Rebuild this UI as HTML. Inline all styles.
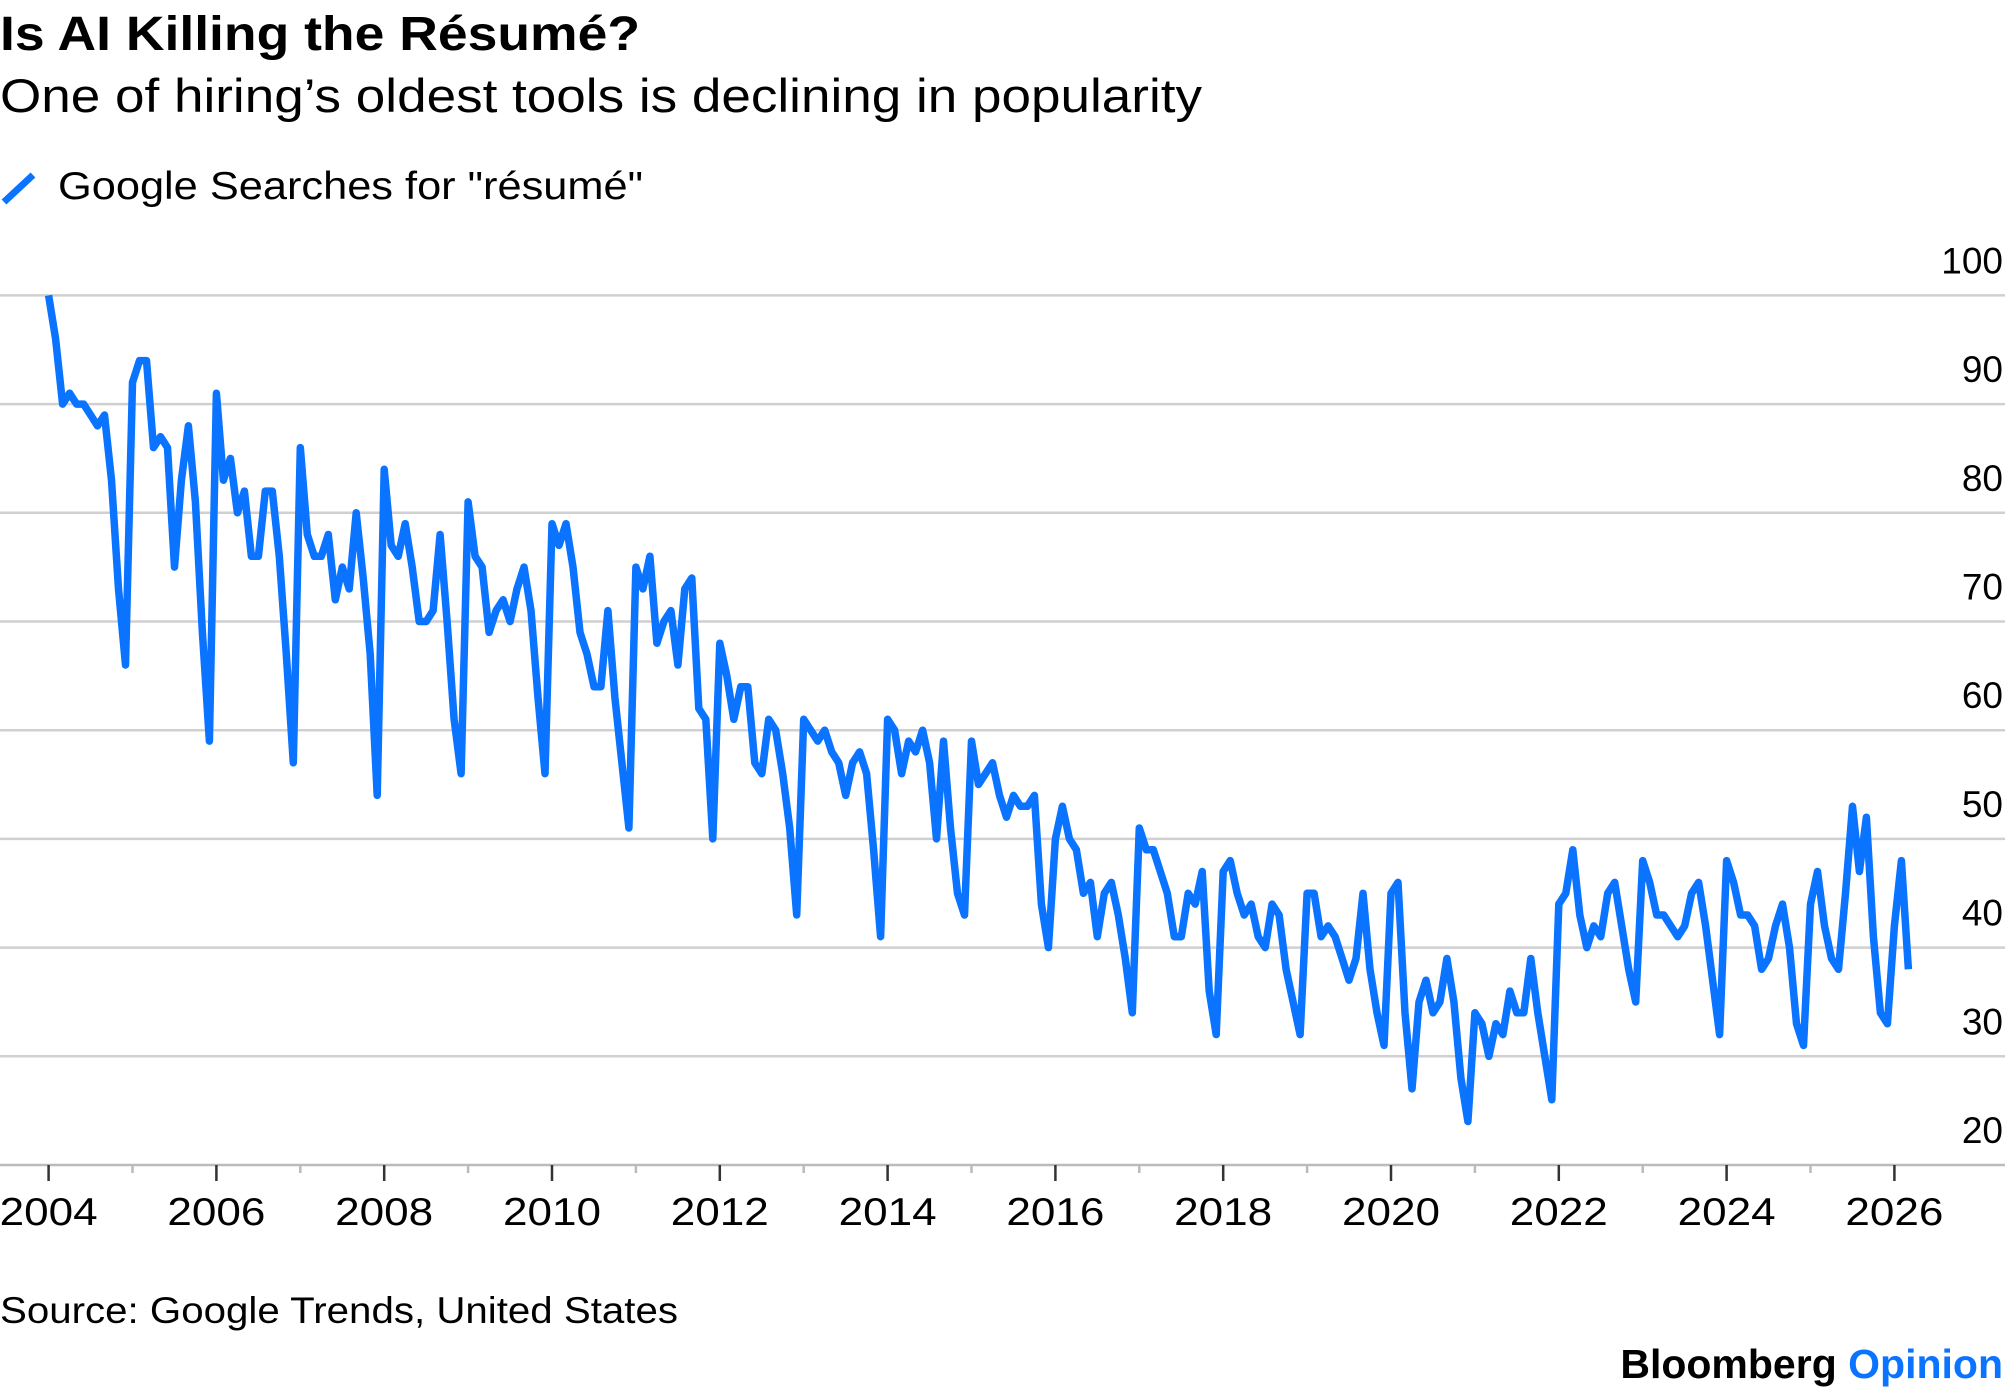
<!DOCTYPE html>
<html><head><meta charset="utf-8"><style>
body{margin:0;background:#fff;width:2005px;height:1392px;overflow:hidden;font-family:"Liberation Sans",sans-serif;}
svg{display:block}
</style></head><body>
<svg id="chart" width="2005" height="1392">
<text x="0" y="50" font-size="48" font-weight="bold" fill="#000" textLength="640" lengthAdjust="spacingAndGlyphs">Is AI Killing the Résumé?</text>
<text x="0" y="112" font-size="47" fill="#000" textLength="1202" lengthAdjust="spacingAndGlyphs">One of hiring’s oldest tools is declining in popularity</text>
<g>
<line x1="4" y1="202" x2="33" y2="175" stroke="#0a73ff" stroke-width="7"/>
<text x="58" y="199" font-size="39" fill="#000" textLength="585" lengthAdjust="spacingAndGlyphs">Google Searches for "résumé"</text>
</g>
<g id="grid"></g><g id="xaxis"></g><g id="series"></g>
<text x="0" y="1323" font-size="37" fill="#000" textLength="678" lengthAdjust="spacingAndGlyphs">Source: Google Trends, United States</text>
<text x="2003" y="1378" font-size="41" font-weight="bold" text-anchor="end"><tspan fill="#000">Bloomberg </tspan><tspan fill="#0a73ff">Opinion</tspan></text>
</svg>
<script>
const yTicks=[20,30,40,50,60,70,80,90,100];
const xTickYears=[2004,2006,2008,2010,2012,2014,2016,2018,2020,2022,2024,2026];
const startYear=2004;
const values=[
100,96,90,91,90,90,89,88,89,83,73,66,
92,94,94,86,87,86,75,83,88,81,69,59,
91,83,85,80,82,76,76,82,82,76,67,57,
86,78,76,76,78,72,75,73,80,74,67,54,
84,77,76,79,75,70,70,71,78,70,61,56,
81,76,75,69,71,72,70,73,75,71,63,56,
79,77,79,75,69,67,64,64,71,63,57,51,
75,73,76,68,70,71,66,73,74,62,61,50,
68,65,61,64,64,57,56,61,60,56,51,43,
61,60,59,60,58,57,54,57,58,56,49,41,
61,60,56,59,58,60,57,50,59,51,45,43,
59,55,56,57,54,52,54,53,53,54,44,40,
50,53,50,49,45,46,41,45,46,43,39,34,
51,49,49,47,45,41,41,45,44,47,36,32,
47,48,45,43,44,41,40,44,43,38,35,32,
45,45,41,42,41,39,37,39,45,38,34,31,
45,46,34,27,35,37,34,35,39,35,28,24,
34,33,30,33,32,36,34,34,39,34,30,26,
44,45,49,43,40,42,41,45,46,42,38,35,
48,46,43,43,42,41,42,45,46,42,37,32,
48,46,43,43,42,38,39,42,44,40,33,31,
44,47,42,39,38,45,53,47,52,41,34,33,
42,48,38];
const NS="http://www.w3.org/2000/svg";
const x0=48.6,pxPerYear=83.9,y20=1165,pxPer10=108.7;
function xs(t){return x0+(t-startYear)*pxPerYear;}
function ys(v){return y20-(v-20)/10*pxPer10;}
const grid=document.getElementById('grid');
yTicks.forEach(v=>{
 const l=document.createElementNS(NS,'line');
 l.setAttribute('x1',0);l.setAttribute('x2',2005);l.setAttribute('y1',ys(v));l.setAttribute('y2',ys(v));
 l.setAttribute('stroke',v===20?'#bbb':'#d0d0d0');l.setAttribute('stroke-width',2.5);
 
 
 grid.appendChild(l);
 const t=document.createElementNS(NS,'text');
 t.setAttribute('x',2003);t.setAttribute('y',ys(v)-22);t.setAttribute('text-anchor','end');
 t.setAttribute('font-size',37);t.textContent=v;
 
 
 grid.appendChild(t);
});
const xa=document.getElementById('xaxis');
for(let yr=2004;yr<=2026;yr++){
 const major=xTickYears.includes(yr);
 const l=document.createElementNS(NS,'line');
 l.setAttribute('x1',xs(yr));l.setAttribute('x2',xs(yr));l.setAttribute('y1',y20);l.setAttribute('y2',y20+(major?16:8));
 l.setAttribute('stroke',major?'#333':'#bbb');l.setAttribute('stroke-width',2.5);
 
 
 xa.appendChild(l);
}
xTickYears.forEach(yr=>{
 const t=document.createElementNS(NS,'text');
 t.setAttribute('x',xs(yr)-49);t.setAttribute('y',1225);
 t.setAttribute('font-size',39);t.setAttribute('textLength',98);t.setAttribute('lengthAdjust','spacingAndGlyphs');t.textContent=yr;
 
 
 xa.appendChild(t);
});
const pts=values.map((v,i)=>xs(startYear+i/12).toFixed(1)+','+ys(v).toFixed(1)).join(' ');
const pl=document.createElementNS(NS,'polyline');
pl.setAttribute('points',pts);pl.setAttribute('fill','none');pl.setAttribute('stroke','#0a73ff');
pl.setAttribute('stroke-width',7.5);pl.setAttribute('stroke-linejoin','round');


document.getElementById('series').appendChild(pl);
</script>
</body></html>
